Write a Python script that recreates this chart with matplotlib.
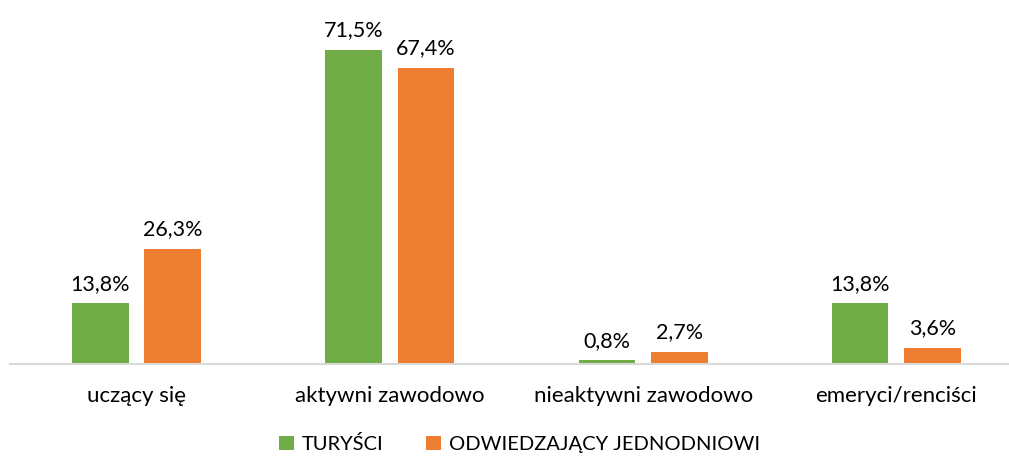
import matplotlib.pyplot as plt
import numpy as np

plt.rcParams["font.family"] = ["Lato", "DejaVu Sans"]

categories = ["uczący się", "aktywni zawodowo", "nieaktywni zawodowo", "emeryci/renciści"]
turysci = [13.8, 71.5, 0.8, 13.8]
jednodniowi = [26.3, 67.4, 2.7, 3.6]
series_names = ["TURYŚCI", "ODWIEDZAJĄCY JEDNODNIOWI"]

GREEN = "#70AD47"
ORANGE = "#ED7D31"


def fmt(v):
    return f"{v:.1f}".replace(".", ",") + "%"


fig = plt.figure(figsize=(10.09, 4.57), dpi=100)
ax = fig.add_axes([10 / 1009, 93 / 457, 999 / 1009, 351 / 457])

x = np.arange(len(categories))
w = 0.224
off = 0.143
b1 = ax.bar(x - off, turysci, w, color=GREEN, label=series_names[0])
b2 = ax.bar(x + off, jednodniowi, w, color=ORANGE, label=series_names[1])

for bars, vals in [(b1, turysci), (b2, jednodniowi)]:
    for rect, v in zip(bars, vals):
        ax.annotate(fmt(v), (rect.get_x() + rect.get_width() / 2, v),
                    xytext=(0, 7), textcoords="offset points",
                    ha="center", va="bottom", fontsize=15.5, color="#000000")

ax.set_xlim(-0.5, 3.445)
ax.set_ylim(0, 80)
ax.set_yticks([])
ax.set_xticks(x)
ax.set_xticklabels(categories, fontsize=16)
ax.tick_params(axis="x", length=0, pad=16)
for s in ["top", "right", "left"]:
    ax.spines[s].set_visible(False)
ax.spines["bottom"].set_color("#D9D9D9")
ax.spines["bottom"].set_linewidth(1.5)

fig.legend(handles=[b1, b2], loc="center", bbox_to_anchor=(0.515, 1 - 444 / 457),
           ncol=2, frameon=False, fontsize=14.5, handlelength=0.75, handleheight=0.75,
           columnspacing=2.1, handletextpad=0.4)

fig.savefig("out.png", dpi=100)
